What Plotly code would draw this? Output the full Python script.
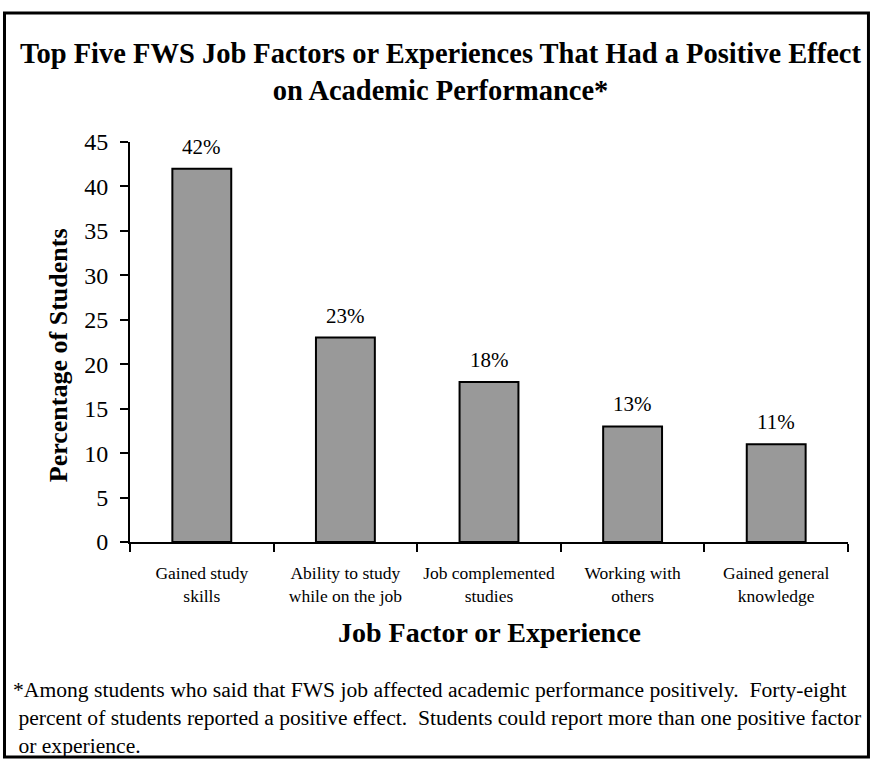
"""Top five FWS job factors with a positive effect on academic performance."""

import plotly.graph_objects as go

factors = [
    "Gained study<br>skills",
    "Ability to study<br>while on the job",
    "Job complemented<br>studies",
    "Working with<br>others",
    "Gained general<br>knowledge",
]
pct_students = [42, 23, 18, 13, 11]
y_ticks = [0, 5, 10, 15, 20, 25, 30, 35, 40, 45]

FONT = "Liberation Serif, Times New Roman, serif"
footnote = (
    "*Among students who said that FWS job affected academic performance positively.\u00a0 Forty-eight"
    "<br>\u00a0percent of students reported a positive effect.\u00a0 Students could report more than one positive factor"
    "<br>\u00a0or experience."
)

fig = go.Figure()
fig.add_bar(
    x=factors,
    y=pct_students,
    marker=dict(color="#999999", line=dict(color="black", width=2)),
    hoverinfo="skip",
)

# value labels sitting above each bar
for cat, val in zip(factors, pct_students):
    fig.add_annotation(
        x=cat, y=val, text=f"{val}%", showarrow=False,
        yanchor="bottom", yshift=8, font=dict(size=21, color="black"),
    )

# y axis title
fig.add_annotation(
    xref="paper", yref="paper", x=-0.1, y=0.4675, xanchor="center", yanchor="middle",
    text="<b>Percentage of Students</b>",
    textangle=-90, showarrow=False, font=dict(size=26, color="black"),
)
# x axis title
fig.add_annotation(
    xref="paper", yref="paper", x=0.5, y=-0.225, xanchor="center", yanchor="middle",
    text="<b>Job Factor or Experience</b>",
    showarrow=False, font=dict(size=28, color="black"),
)
# footnote
fig.add_annotation(
    xref="paper", yref="paper", x=-0.166, y=-0.335, xanchor="left", yanchor="top",
    align="left", text=footnote, showarrow=False, font=dict(size=21.6, color="black"),
)

# outer frame
fig.add_shape(
    type="rect", xref="paper", yref="paper",
    x0=-0.1748, x1=1.0285, y0=-0.5375, y1=1.3225,
    line=dict(color="black", width=3),
)

fig.update_layout(
    width=873,
    height=760,
    margin=dict(l=130, r=25, t=142, b=218),
    paper_bgcolor="white",
    plot_bgcolor="white",
    font=dict(family=FONT, color="black"),
    showlegend=False,
    bargap=0.59,
    title=dict(
        text="<b>Top Five FWS Job Factors or Experiences That Had a Positive Effect<br>on Academic Performance*</b>",
        x=0.5046, xanchor="center", xref="container",
        y=0.9175, yanchor="middle", yref="container",
        font=dict(size=28.5, color="black"),
        automargin=False,
    ),
)
fig.update_xaxes(
    showline=True, linecolor="black", linewidth=2,
    ticks="outside", tickson="boundaries", ticklen=8, tickwidth=2, tickcolor="black",
    tickfont=dict(size=17.5), tickangle=0, ticklabelstandoff=14, showgrid=False,
    automargin=False,
)
fig.update_yaxes(
    range=[0, 45], tickvals=y_ticks, showline=True, linecolor="black", linewidth=2,
    ticks="outside", ticklen=8, tickwidth=2, tickcolor="black",
    tickfont=dict(size=24), ticklabelstandoff=7, showgrid=False, zeroline=False,
    automargin=False,
)

# drop the default page margin so the figure sits at the window's corner
fig.write_html(
    "out.html",
    config={"displayModeBar": False},
    post_script="document.body.style.margin='0';",
)
